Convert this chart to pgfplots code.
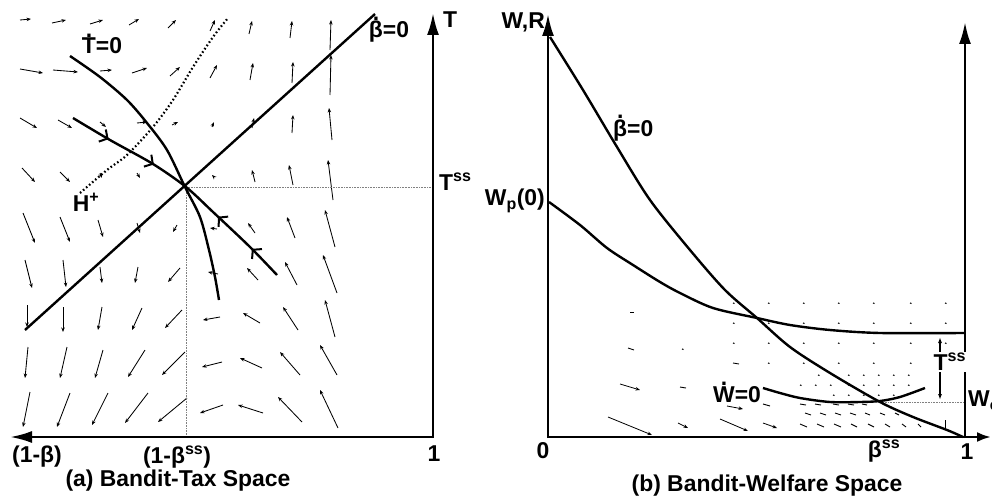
\documentclass[border=0pt]{standalone}
\usepackage{fontspec}
\setmainfont{Liberation Sans}
\usepackage{pgfplots}
\pgfplotsset{compat=1.18}
\usetikzlibrary{arrows.meta,decorations.markings}
\newcommand\dt[1]{\leavevmode\vbox{\offinterlineskip\halign{\hfil##\hfil\cr.\cr\noalign{\kern1.2pt}#1\cr}}}
\tikzset{lbl/.style={font=\fontsize{23}{27}\selectfont\bfseries, inner sep=0pt}}

% left panel vector field: x y u v (pixel units, y downward)
\pgfplotstableread{
x y u v
20 20 11 -1
52 23 14 -3
90 24 13 -4
129 25 10 -6
168 28 8 -8
210 31 5 -11
249 34 3 -13
290 38 2 -17
330 50 1 -30
20 69 23 4
53 70 25 2
100 71 12 -1
132 73 15 -5
170 76 10 -9
210 78 7 -13
250 80 3 -17
292 83 1 -21
330 95 1 -40
20 118 17 10
58 120 14 8
100 122 6 5
137 123 10 -1
172 125 6 -3
212 127 2 -5
252 128 2 -10
292 133 1 -18
332 140 -3 -32
22 168 13 14
60 172 10 10
100 173 2 5
137 173 3 5
213 176 -1 -1
255 182 -3 -12
293 185 -4 -20
333 200 -5 -40
23 213 12 30
60 217 10 25
98 220 5 17
137 223 3 10
177 225 -4 7
217 229 -7 -1
255 233 -7 -10
295 238 -8 -21
335 247 -10 -37
25 260 7 28
63 260 3 27
100 267 2 16
138 267 -3 16
180 268 -12 14
218 274 -10 -2
258 280 -11 -12
297 285 -12 -23
337 293 -14 -38
27 305 0 22
63 307 0 25
102 307 -4 23
142 308 -10 22
182 310 -17 18
220 317 -17 3
260 323 -17 -10
298 330 -15 -23
335 337 -10 -37
28 347 -3 31
67 347 -7 31
103 350 -8 28
145 350 -17 27
185 352 -23 23
222 362 -20 5
262 368 -22 -10
300 375 -20 -23
337 375 -17 -30
30 392 -7 35
70 393 -13 34
108 393 -16 32
148 393 -23 30
187 398 -29 24
223 405 -23 8
263 413 -25 -8
302 422 -24 -25
338 428 -18 -38
}\fieldA

% right panel: tiny dots
\pgfplotstableread{
x y u v
733 303 1.5 0.5
768 303 1.5 0.5
803 303 1.5 0.5
838 303 1.5 0.5
873 303 1.5 0.5
910 303 1.5 0.5
945 303 1.5 0.5
733 323 1.5 0.5
768 323 1.5 0.5
803 323 1.5 0.5
838 323 1.5 0.5
873 323 1.5 0.5
910 323 1.5 0.5
945 323 1.5 0.5
682 349 1.5 0.5
733 343 1.5 0.5
768 343 1.5 0.5
803 343 1.5 0.5
838 343 1.5 0.5
873 343 1.5 0.5
910 343 1.5 0.5
945 343 1.5 0.5
768 363 1.5 0.5
803 363 1.5 0.5
838 363 1.5 0.5
873 363 1.5 0.5
910 363 1.5 0.5
818 375 1.5 0.5
833 375 1.5 0.5
848 375 1.5 0.5
863 375 1.5 0.5
878 375 1.5 0.5
893 375 1.5 0.5
908 375 1.5 0.5
800 385 1.5 0.5
815 385 1.5 0.5
830 385 1.5 0.5
848 385 1.5 0.5
863 385 1.5 0.5
878 385 1.5 0.5
893 385 1.5 0.5
908 385 1.5 0.5
833 395 1.5 0.5
848 395 1.5 0.5
863 395 1.5 0.5
878 395 1.5 0.5
893 395 1.5 0.5
}\fieldBdots

% right panel: short dashes
\pgfplotstableread{
x y u v
630 312 4 0
628 348 6 2
733 363 6 1
680 387 6 1
763 404 7 2
800 404 6 1
815 404 6 1
833 404 6 1
848 404 6 1
862 404 5 1
805 413 6 2
820 413 6 2
835 413 6 2
850 413 6 2
865 413 5 2
880 413 5 2
895 413 4 2
800 424 7 3
817 424 7 3
834 424 7 3
851 424 6 3
868 424 6 3
885 424 5 3
902 424 4 3
918 424 3 3
945 420 0 8
}\fieldBdash

% right panel: arrows with heads
\pgfplotstableread{
x y u v
608 417 44 18
620 384 20 6
727 406 16 3
720 419 28 12
678 423 10 5
763 423 14 5
}\fieldBarr

\begin{document}
\begin{tikzpicture}[font=\fontsize{23}{27}\selectfont\bfseries]
\begin{axis}[width=992bp,height=502bp,scale only axis,
  xmin=0,xmax=992,ymin=0,ymax=502,y dir=reverse,
  hide axis,clip=false]

% ---------------- left panel ----------------
\addplot[quiver={u=\thisrow{u},v=\thisrow{v}}, line width=0.85bp,
  -{Stealth[length=4.5bp,width=3.5bp]}] table {\fieldA};

\addplot[gray, line width=0.6bp, densely dotted] coordinates {(186,187) (433,187)};
\addplot[gray, line width=0.6bp, densely dotted] coordinates {(186,187) (186,437)};

\addplot[line width=2.6bp, -{Latex[length=22bp,width=12bp]}] coordinates {(433,437) (10,437)};
\addplot[line width=2.6bp, -{Latex[length=22bp,width=12bp]}] coordinates {(433,438) (433,13)};

% beta-dot = 0
\addplot[line width=2.4bp] coordinates {(25,330) (375,14)};
% T-dot = 0
\addplot[line width=2.4bp, smooth] coordinates {(70,56) (100,77) (127,100) (147,123) (167,150) (185,187) (200,217) (209,250) (215,277) (219,300)};
% H+
\addplot[line width=2.2bp, dash pattern=on 1.6bp off 2.4bp, smooth] coordinates {(80,193) (107,170) (127,155) (153,127) (173,100) (193,67) (213,37) (228,18)};
% saddle path
\addplot[line width=2.4bp, smooth, postaction={decorate},
  decoration={markings,
   mark=at position 0.16 with {\arrow{Straight Barb[length=6bp,width=14bp,line width=2bp]}},
   mark=at position 0.36 with {\arrow{Straight Barb[length=6bp,width=14bp,line width=2bp]}},
   mark=at position 0.68 with {\arrowreversed{Straight Barb[length=6bp,width=14bp,line width=2bp]}},
   mark=at position 0.86 with {\arrowreversed{Straight Barb[length=6bp,width=14bp,line width=2bp]}}}]
  coordinates {(73,118) (110,140) (153,164) (186,187) (213,212) (250,247) (277,275)};

\node[lbl,anchor=base] at (axis cs:102,54) {\dt{T}=0};
\node[lbl,anchor=base] at (axis cs:389,38) {\dt{β}=0};
\node[lbl] at (axis cs:450,20) {T};
\node[lbl,anchor=west] at (axis cs:439,182) {T\textsuperscript{ss}};
\node[lbl] at (axis cs:86,202) {H\textsuperscript{+}};
\node[lbl] at (axis cs:37,457) {(1-β)};
\node[lbl] at (axis cs:177,457) {(1-β\textsuperscript{ss})};
\node[lbl] at (axis cs:434,454) {1};
\node[lbl] at (axis cs:178,481) {(a) Bandit-Tax Space};

% ---------------- right panel ----------------
\addplot[quiver={u=\thisrow{u},v=\thisrow{v}}, line width=1.1bp] table {\fieldBdots};
\addplot[quiver={u=\thisrow{u},v=\thisrow{v}}, line width=0.9bp] table {\fieldBdash};
\addplot[quiver={u=\thisrow{u},v=\thisrow{v}}, line width=0.8bp,
  -{Stealth[length=4.5bp,width=3.5bp]}] table {\fieldBarr};

\addplot[gray, line width=0.6bp, densely dotted] coordinates {(880,402) (965,402)};

\addplot[line width=2.6bp, -{Latex[length=22bp,width=12bp]}] coordinates {(548,438) (548,14)};
\addplot[line width=2.6bp, -{Latex[length=22bp,width=12bp]}] coordinates {(965,438) (965,22)};
\addplot[line width=2.6bp, -{Latex[length=14bp,width=10bp]}] coordinates {(547,437) (991,437)};

% beta-dot = 0
\addplot[line width=2.4bp, smooth] coordinates {(550,37) (583,90) (617,147) (650,200) (690,250) (725,290) (757,318) (790,347) (830,373) (880,402) (913,417) (947,430) (963,437)};
% W_p(0) curve
\addplot[line width=2.4bp, smooth] coordinates {(549,202) (580,225) (607,248) (633,265) (660,282) (680,293) (713,308) (757,318) (790,325) (830,330) (880,333) (964,333)};
% W-dot = 0
\addplot[line width=2.4bp, smooth] coordinates {(763,388) (780,393) (800,398) (830,402) (860,402) (880,401) (900,397) (925,388)};

% T^ss double arrow
\addplot[line width=1.2bp, {Latex[length=6bp,width=4bp]}-{Latex[length=6bp,width=4bp]}] coordinates {(940,337) (940,400)};
\node[lbl,anchor=west, fill=white, inner xsep=0.5bp, inner ysep=1bp] at (axis cs:933,362) {T\textsuperscript{ss}};

\node[lbl,anchor=east] at (axis cs:545,22) {W,R};
\node[lbl,anchor=east] at (axis cs:545,201) {W\textsubscript{p}(0)};
\node[lbl,anchor=base west] at (axis cs:613,136) {\dt{β}=0};
\node[lbl,anchor=base] at (axis cs:737,402) {\dt{W}=0};
\node[lbl] at (axis cs:543,451) {0};
\node[lbl] at (axis cs:884,451) {β\textsuperscript{ss}};
\node[lbl] at (axis cs:967,452) {1};
\node[lbl,anchor=west] at (axis cs:968,401) {W\textsubscript{e}};
\node[lbl] at (axis cs:767,486) {(b) Bandit-Welfare Space};
\end{axis}
\pgfresetboundingbox
\path (current axis.south west) rectangle (current axis.north east);
\end{tikzpicture}
\end{document}
